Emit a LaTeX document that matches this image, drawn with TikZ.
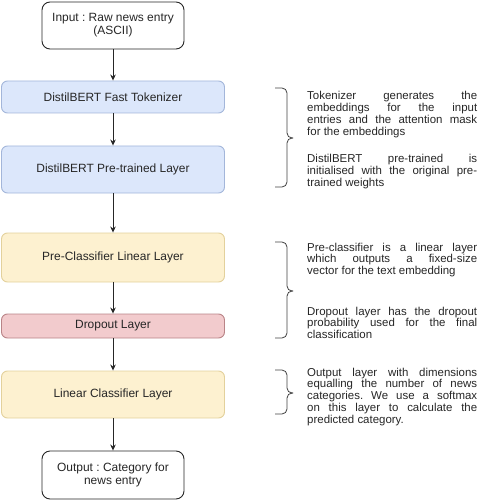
\documentclass[tikz,border=0pt]{standalone}
\usepackage{fontspec}
\setmainfont{Liberation Sans}
\usetikzlibrary{arrows.meta}
\definecolor{bluefill}{HTML}{DCE7FB}
\definecolor{bluedraw}{HTML}{A3B6DA}
\definecolor{yelfill}{HTML}{FDF1D0}
\definecolor{yeldraw}{HTML}{E3D19C}
\definecolor{redfill}{HTML}{F2CBCD}
\definecolor{reddraw}{HTML}{B98487}
\definecolor{txt}{HTML}{262626}
\tikzset{
  box/.style={rounded corners=6bp, line width=0.9bp, align=center, inner sep=0pt,
    font=\fontsize{12}{13}\selectfont\frenchspacing, text=txt},
  iobox/.style={box, draw=black!85, fill=white, rounded corners=8bp, minimum width=142bp},
  bluebox/.style={box, draw=bluedraw, fill=bluefill, minimum width=223bp},
  yelbox/.style={box, draw=yeldraw, fill=yelfill, minimum width=223bp},
  redbox/.style={box, draw=reddraw, fill=redfill, minimum width=223bp},
  arr/.style={-{Stealth[length=6bp,width=5.5bp]}, line width=0.9bp, draw=black!85},
  brc/.style={rounded corners=5bp, line width=0.8bp, draw=black!75},
  desc/.style={anchor=base west, inner sep=0pt, text width=170bp, align=justify,
    font=\fontsize{11.5}{12}\selectfont\frenchspacing, text=txt}
}
\begin{document}
\begin{tikzpicture}[x=1bp,y=-1bp]
\useasboundingbox (0,0) rectangle (480,503);
\node[iobox, minimum height=47bp] (in) at (113,25.5) {Input : Raw news entry\\(ASCII)};
\node[bluebox, minimum height=32bp] (tok) at (113,97) {DistilBERT Fast Tokenizer};
\node[bluebox, minimum height=47bp] (pre) at (113,169.5) {DistilBERT Pre-trained Layer};
\node[yelbox, minimum height=49bp] (pcl) at (113,257.5) {Pre-Classifier Linear Layer};
\node[redbox, minimum height=24bp] (drop) at (113,326) {Dropout Layer};
\node[yelbox, minimum height=47bp] (lin) at (113,394.5) {Linear Classifier Layer};
\node[iobox, minimum height=48bp] (out) at (113,475) {Output : Category for\\news entry};
\draw[arr] (in) -- (tok);
\draw[arr] (tok) -- (pre);
\draw[arr] (pre) -- (pcl);
\draw[arr] (pcl) -- (drop);
\draw[arr] (drop) -- (lin);
\draw[arr] (lin) -- (out);
% braces
\coordinate (b1a) at (275,88); \coordinate (b1m) at (293,138); \coordinate (b1b) at (275,187);
\coordinate (b2a) at (275,242); \coordinate (b2m) at (293,291); \coordinate (b2b) at (275,338);
\coordinate (b3a) at (275,370); \coordinate (b3m) at (293,393); \coordinate (b3b) at (275,414);
\draw[brc] (b1a) -- (287,88) -- (287,138) -- (b1m);
\draw[brc] (b1m) -- (287,138) -- (287,187) -- (b1b);
\draw[brc] (b2a) -- (287,242) -- (287,291) -- (b2m);
\draw[brc] (b2m) -- (287,291) -- (287,338) -- (b2b);
\draw[brc] (b3a) -- (287,370) -- (287,393) -- (b3m);
\draw[brc] (b3m) -- (287,393) -- (287,414) -- (b3b);
\node[desc] (t1) at (307,100) {Tokenizer generates the\linebreak embeddings for the input\linebreak entries and the attention mask\linebreak for the embeddings};
\node[desc] (t2) at (307,163) {DistilBERT pre-trained is\linebreak initialised with the original pre-\linebreak trained weights};
\node[desc] (t3) at (307,251) {Pre-classifier is a linear layer\linebreak which outputs a fixed-size\linebreak vector for the text embedding};
\node[desc] (t4) at (307,315) {Dropout layer has the dropout\linebreak probability used for the final\linebreak classification};
\node[desc] (t5) at (307,376) {Output layer with dimensions\linebreak equalling the number of news\linebreak categories. We use a softmax\linebreak on this layer to calculate the\linebreak predicted category.};
\end{tikzpicture}
\end{document}
